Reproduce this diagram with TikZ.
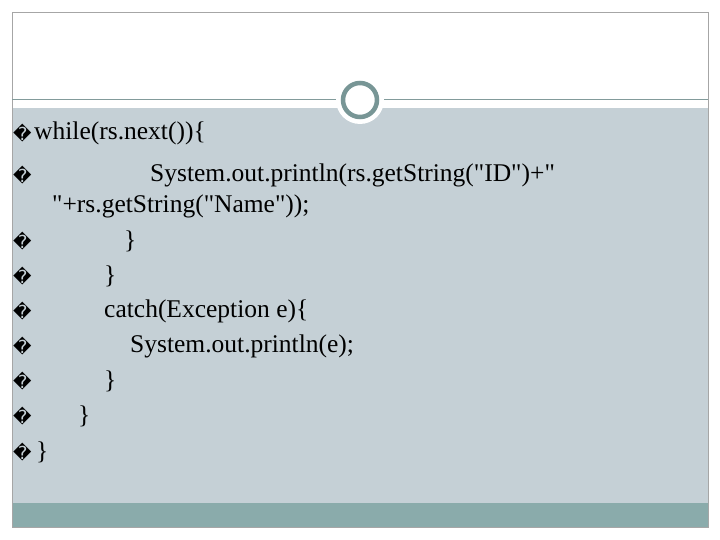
\documentclass[tikz,border=0pt]{standalone}
\usepackage{fontspec}
\setmainfont{Liberation Serif}[Ligatures=TeXOff]
\newfontfamily\bulfont{DejaVu Sans}
\begin{document}
\begin{tikzpicture}[x=1pt,y=-1pt,
  code/.style={anchor=west,inner sep=0pt,font=\fontsize{25.5}{28}\selectfont},
  bul/.style={anchor=west,inner sep=0pt,font=\bulfont\fontsize{18}{24}\selectfont}]
\useasboundingbox (0,0) rectangle (720,540);
\fill[white] (0,0) rectangle (720,540);
\fill[white] (12,12) rectangle (708,108);
\fill[fill={rgb,255:red,197;green,208;blue,214}] (12,108) rectangle (708,503);
\fill[fill={rgb,255:red,138;green,171;blue,171}] (12,503) rectangle (708,527);
\draw[gray!70] (12,12) rectangle (708,527);
\draw[line width=1pt,color={rgb,255:red,130;green,155;blue,155}] (12,100) -- (336,100) (384,100) -- (708,100);
\fill[white] (360,100) circle (24);
\draw[line width=4.5pt,color={rgb,255:red,120;green,150;blue,150}] (360,100) circle (17);
\node[bul] (b1) at (13,133) {�};
\node[code] (t1) at (34,133) {while(rs.next())\{};
\node[bul] (b2) at (13,175) {�};
\node[code] (t2) at (150,175) {System.out.println(rs.getString("ID")+"};
\node[code] (t2b) at (52,206) {"+rs.getString("Name"));};
\node[bul] (b3) at (13,241) {�};
\node[code] (t3) at (124,241) {\}};
\node[bul] (b4) at (13,276) {�};
\node[code] (t4) at (104,276) {\}};
\node[bul] (b5) at (13,311) {�};
\node[code] (t5) at (104,311) {catch(Exception e)\{};
\node[bul] (b6) at (13,346) {�};
\node[code] (t6) at (130,346) {System.out.println(e);};
\node[bul] (b7) at (13,381) {�};
\node[code] (t7) at (104,381) {\}};
\node[bul] (b8) at (13,416) {�};
\node[code] (t8) at (78,416) {\}};
\node[bul] (b9) at (13,452) {�};
\node[code] (t9) at (36,452) {\}};
\end{tikzpicture}
\end{document}
